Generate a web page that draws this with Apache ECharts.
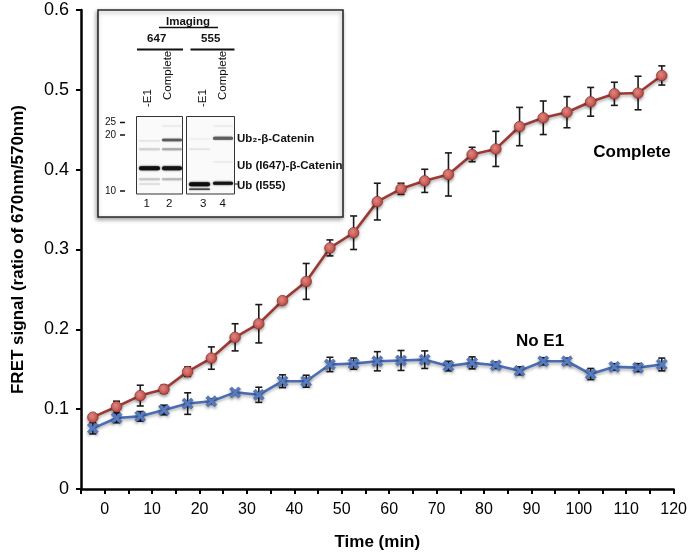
<!DOCTYPE html>
<html>
<head>
<meta charset="utf-8">
<script src="https://cdn.jsdelivr.net/npm/echarts@6/dist/echarts.min.js"></script>
<style>html,body{margin:0;padding:0;background:#fff}#c{width:690px;height:556px}</style>
</head>
<body>
<div id="c"></div>
<script>
var times = [-2.5, 2.5, 7.5, 12.5, 17.5, 22.5, 27.5, 32.5, 37.5, 42.5, 47.5, 52.5, 57.5, 62.5, 67.5, 72.5, 77.5, 82.5, 87.5, 92.5, 97.5, 102.5, 107.5, 112.5, 117.5];
var completeVals = [0.090, 0.103, 0.117, 0.125, 0.147, 0.164, 0.190, 0.207, 0.236, 0.260, 0.302, 0.321, 0.360, 0.376, 0.386, 0.394, 0.419, 0.426, 0.454, 0.465, 0.472, 0.485, 0.495, 0.496, 0.518];
var completeErr = [0.004, 0.007, 0.013, 0.005, 0.006, 0.014, 0.017, 0.024, 0.003, 0.0225, 0.010, 0.021, 0.023, 0.007, 0.0145, 0.027, 0.009, 0.022, 0.024, 0.021, 0.0195, 0.018, 0.0145, 0.021, 0.012];
var noE1Vals = [0.076, 0.089, 0.091, 0.099, 0.107, 0.110, 0.121, 0.118, 0.135, 0.135, 0.156, 0.157, 0.160, 0.161, 0.162, 0.154, 0.158, 0.155, 0.148, 0.160, 0.160, 0.144, 0.153, 0.152, 0.156];
var noE1Err = [0.007, 0.006, 0.006, 0.006, 0.0135, 0.003, 0.002, 0.0095, 0.008, 0.0075, 0.009, 0.007, 0.012, 0.0125, 0.011, 0.006, 0.0075, 0.004, 0.005, 0.0045, 0.004, 0.007, 0.004, 0.005, 0.008];
var xTickLabels = ['0', '10', '20', '30', '40', '50', '60', '70', '80', '90', '100', '110', '120'];
var yTickLabels = ['0', '0.1', '0.2', '0.3', '0.4', '0.5', '0.6'];
var seriesNames = ['Complete', 'No E1'];

var FONT = '"Liberation Sans", Arial, Helvetica, sans-serif';
var chart = echarts.init(document.getElementById('c'));

function pairs(xs, ys) { return xs.map(function (x, i) { return [x, ys[i]]; }); }
function triples(xs, ys, es) { return xs.map(function (x, i) { return [x, ys[i], es[i]]; }); }

function errRender(params, api) {
  var x = api.value(0), y = api.value(1), e = api.value(2);
  var top = api.coord([x, y + e]);
  var bot = api.coord([x, y - e]);
  var hw = 3.5;
  var st = { stroke: '#1a1a1a', lineWidth: 1.6 };
  return {
    type: 'group',
    children: [
      { type: 'line', shape: { x1: top[0], y1: top[1], x2: bot[0], y2: bot[1] }, style: st },
      { type: 'line', shape: { x1: top[0] - hw, y1: top[1], x2: top[0] + hw, y2: top[1] }, style: st },
      { type: 'line', shape: { x1: bot[0] - hw, y1: bot[1], x2: bot[0] + hw, y2: bot[1] }, style: st }
    ]
  };
}

var crossPath = 'path://M2,0 L5,3 L8,0 L10,2 L7,5 L10,8 L8,10 L5,7 L2,10 L0,8 L3,5 L0,2 Z';

// Inset (gel image) drawn as graphic elements, relative to its box
var gx = 98, gy = 10;
function band(x, y, w, h, color, blur) {
  return { type: 'rect', shape: { x: gx + x, y: gy + y - h / 2, width: w, height: h, r: h / 2 },
    style: { fill: color, shadowBlur: blur || 1.5, shadowColor: color } };
}
function txt(x, y, s, size, bold, align, rot) {
  return { type: 'text', x: gx + x, y: gy + y, rotation: rot || 0,
    style: { text: s, fill: '#111', font: (bold ? 'bold ' : '') + size + 'px ' + FONT,
      textAlign: align || 'center', textVerticalAlign: 'middle' } };
}
function hline(x1, x2, y, w) {
  return { type: 'line', shape: { x1: gx + x1, y1: gy + y, x2: gx + x2, y2: gy + y }, style: { stroke: '#111', lineWidth: w || 2 } };
}
var inset = [
  { type: 'rect', shape: { x: gx, y: gy, width: 245, height: 207 },
    style: { fill: '#fff', stroke: '#2a2a2a', lineWidth: 1.6, shadowBlur: 4, shadowOffsetX: -1, shadowOffsetY: 2, shadowColor: 'rgba(0,0,0,0.35)' } },
  txt(90, 12, 'Imaging', 11.5, true),
  hline(61, 120, 17.5, 1.5),
  txt(58.7, 28.5, '647', 11.5, true),
  txt(112.7, 28.5, '555', 11.5, true),
  hline(39, 85, 39.5, 2),
  hline(92.5, 136.5, 39.5, 2),
  txt(49.7, 97, '-E1', 11.5, false, 'left', Math.PI / 2),
  txt(70.3, 90, 'Complete', 11.5, false, 'left', Math.PI / 2),
  txt(104.7, 97, '-E1', 11.5, false, 'left', Math.PI / 2),
  txt(125.3, 90, 'Complete', 11.5, false, 'left', Math.PI / 2),
  { type: 'rect', shape: { x: gx + 38.5, y: gy + 106.5, width: 46, height: 77.5 }, style: { fill: '#fafafa', stroke: '#333', lineWidth: 1 } },
  { type: 'rect', shape: { x: gx + 88.5, y: gy + 106.5, width: 48, height: 77.5 }, style: { fill: '#fafafa', stroke: '#333', lineWidth: 1 } },
  // lane 1
  band(41, 130.7, 21, 1.5, '#e6e6e6'),
  band(41, 139.3, 21, 2, '#d2d2d2'),
  band(41, 158.3, 21, 4, '#111', 2),
  band(41, 169.3, 21, 2, '#c8c8c8'),
  band(41, 174, 21, 1.5, '#dedede'),
  // lane 2
  band(64, 116, 20, 1.5, '#ececec'),
  band(64, 130, 20, 2.5, '#5a5a5a', 1.5),
  band(64, 139.3, 20, 2, '#a8a8a8'),
  band(64, 158.3, 20, 4, '#151515', 2),
  band(64, 169.3, 20, 2, '#b8b8b8'),
  // lane 3
  band(91, 129, 21, 1.5, '#efefef'),
  band(91, 139.3, 21, 1.5, '#e4e4e4'),
  band(91, 174.3, 21, 4, '#0d0d0d', 2),
  band(91, 179.3, 21, 1.5, '#444'),
  // lane 4
  band(115, 116, 20, 1.5, '#ececec'),
  band(115, 128.3, 20, 3, '#5e5e5e', 1.5),
  band(115, 151.7, 20, 1.5, '#ececec'),
  band(115, 173.3, 20, 3, '#151515', 2),
  txt(18, 112.5, '25', 10, false, 'right'),
  txt(18, 125, '20', 10, false, 'right'),
  txt(18, 181, '10', 10, false, 'right'),
  hline(22, 27, 112.5, 1.5),
  hline(22, 27, 125, 1.5),
  hline(22, 27, 181, 1.5),
  txt(139, 129, 'Ub\u2082-\u03b2-Catenin', 11.5, true, 'left'),
  txt(139, 156, 'Ub (I647)-\u03b2-Catenin', 11.5, true, 'left'),
  txt(139, 176, 'Ub (I555)', 11.5, true, 'left'),
  hline(137, 140, 174, 1),
  txt(48.7, 193.5, '1', 11.5),
  txt(71.3, 193.5, '2', 11.5),
  txt(105.3, 193.5, '3', 11.5),
  txt(124.7, 193.5, '4', 11.5)
];

var option = {
  animation: false,
  backgroundColor: '#fff',
  grid: { left: 81, right: 7, top: 10, bottom: 64, containLabel: false },
  xAxis: {
    type: 'value', min: -5, max: 120, interval: 5,
    name: 'Time (min)', nameLocation: 'middle', nameGap: 45,
    nameTextStyle: { fontFamily: FONT, fontWeight: 'bold', fontSize: 17, color: '#000' },
    axisLine: { onZero: false, lineStyle: { color: '#000', width: 2.5 } },
    axisTick: { length: 5, lineStyle: { color: '#000', width: 2 } },
    axisLabel: {
      margin: 13, fontFamily: FONT, fontSize: 16, color: '#000',
      formatter: function (v) { var i = xTickLabels.indexOf(String(v)); return i >= 0 ? xTickLabels[i] : ''; }
    },
    splitLine: { show: false }
  },
  yAxis: {
    type: 'value', min: 0, max: 0.6, interval: 0.1,
    name: 'FRET signal (ratio of 670nm/570nm)', nameLocation: 'middle', nameGap: 54,
    nameTextStyle: { fontFamily: FONT, fontWeight: 'bold', fontSize: 17, color: '#000' },
    axisLine: { show: true, onZero: false, lineStyle: { color: '#000', width: 2.5 } },
    axisTick: { show: true, length: 5, lineStyle: { color: '#000', width: 2 } },
    axisLabel: {
      margin: 12, fontFamily: FONT, fontSize: 18, color: '#000',
      formatter: function (v) { return yTickLabels[Math.round(v * 10)]; }
    },
    splitLine: { show: false }
  },
  series: [
    { type: 'custom', name: seriesNames[0] + ' err', renderItem: errRender, data: triples(times, completeVals, completeErr), z: 1, silent: true },
    { type: 'custom', name: seriesNames[1] + ' err', renderItem: errRender, data: triples(times, noE1Vals, noE1Err), z: 1, silent: true },
    {
      type: 'line', name: seriesNames[0], data: pairs(times, completeVals), z: 3,
      symbol: 'circle', symbolSize: 10.5,
      lineStyle: { color: '#9c3934', width: 2.6, shadowColor: 'rgba(0,0,0,0.3)', shadowBlur: 3, shadowOffsetY: 2 },
      itemStyle: {
        color: { type: 'radial', x: 0.4, y: 0.35, r: 0.7, colorStops: [{ offset: 0, color: '#eb8c86' }, { offset: 1, color: '#b8433e' }] },
        borderColor: '#8f3531', borderWidth: 0.8,
        shadowColor: 'rgba(0,0,0,0.35)', shadowBlur: 3, shadowOffsetY: 2
      }
    },
    {
      type: 'line', name: seriesNames[1], data: pairs(times, noE1Vals), z: 4,
      symbol: crossPath, symbolSize: 11,
      lineStyle: { color: '#4a6db5', width: 2.6, shadowColor: 'rgba(0,0,0,0.3)', shadowBlur: 3, shadowOffsetY: 2 },
      itemStyle: { color: '#5b80c8', borderColor: '#3a5a9a', borderWidth: 0.6, shadowColor: 'rgba(0,0,0,0.35)', shadowBlur: 3, shadowOffsetY: 2 }
    }
  ],
  graphic: inset.concat([
    { type: 'text', x: 632, y: 152, style: { text: seriesNames[0], font: 'bold 17px ' + FONT, fill: '#000', textAlign: 'center', textVerticalAlign: 'middle' } },
    { type: 'text', x: 540, y: 341, style: { text: seriesNames[1], font: 'bold 17px ' + FONT, fill: '#000', textAlign: 'center', textVerticalAlign: 'middle' } }
  ])
};
chart.setOption(option);
</script>
</body>
</html>
